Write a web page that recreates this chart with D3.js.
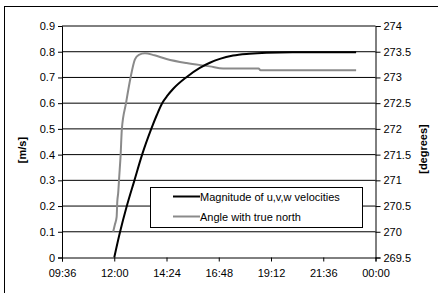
<!DOCTYPE html>
<html>
<head>
<meta charset="utf-8">
<script src="https://cdn.jsdelivr.net/npm/d3@7"></script>
<style>
  body { margin: 0; background: #fff; }
  svg text { font-family: "Liberation Sans", Arial, sans-serif; font-size: 11px; fill: #000; }
</style>
</head>
<body>
<div id="chart"></div>
<script>
// time in decimal hours
var tickHours = [9.6, 12, 14.4, 16.8, 19.2, 21.6, 24];
var tickLabels = ["09:36", "12:00", "14:24", "16:48", "19:12", "21:36", "00:00"];
var leftTicks = [0, 0.1, 0.2, 0.3, 0.4, 0.5, 0.6, 0.7, 0.8, 0.9];
var rightTicks = [269.5, 270, 270.5, 271, 271.5, 272, 272.5, 273, 273.5, 274];

// magnitude of u,v,w velocities [m/s]
var magHours = [12.0, 12.26, 12.57, 12.92, 13.28, 13.70, 13.95, 14.20, 14.45, 14.70, 15.30, 15.93, 16.39, 16.85, 17.46, 18.20, 18.99, 20.19, 23.11];
var magValues = [0, 0.097, 0.198, 0.298, 0.40, 0.50, 0.553, 0.60, 0.630, 0.655, 0.700, 0.737, 0.757, 0.772, 0.785, 0.792, 0.796, 0.798, 0.798];

// angle with true north [degrees]
var angHours = [11.95, 12.03, 12.11, 12.14, 12.18, 12.23, 12.29, 12.35, 12.54, 12.75, 12.95, 13.13, 13.41, 13.85, 14.40, 15.32, 16.39, 17.0, 18.63, 18.72, 23.11];
var angValues = [270.0, 270.14, 270.29, 270.59, 270.75, 271.08, 271.47, 272.0, 272.5, 273.0, 273.35, 273.44, 273.47, 273.43, 273.36, 273.28, 273.215, 273.175, 273.175, 273.14, 273.14];

var width = 438, height = 293;
var plotLeft = 62, plotRight = 375.5, plotTop = 26, plotBottom = 257.5;

var svg = d3.select("#chart").append("svg")
    .attr("width", width)
    .attr("height", height);

// outer frame (cropped at right and bottom)
svg.append("rect")
    .attr("x", 4.5).attr("y", 6.5)
    .attr("width", 600).attr("height", 400)
    .attr("fill", "none").attr("stroke", "#000");

var x = d3.scaleLinear().domain([9.6, 24]).range([plotLeft, plotRight]);
var y = d3.scaleLinear().domain([0, 0.9]).range([plotBottom, plotTop]);
var y2 = d3.scaleLinear().domain([269.5, 274]).range([plotBottom, plotTop]);

// gridlines
svg.append("g").selectAll("line")
  .data(leftTicks.slice(1))
  .enter().append("line")
    .attr("x1", plotLeft).attr("x2", plotRight)
    .attr("y1", function(d) { return y(d); })
    .attr("y2", function(d) { return y(d); })
    .attr("stroke", "#000").attr("stroke-width", 1);

// axes
var xAxis = d3.axisBottom(x).tickValues(tickHours)
    .tickFormat(function(d, i) { return tickLabels[i]; })
    .tickSize(4).tickPadding(8);
var yAxis = d3.axisLeft(y).tickValues(leftTicks)
    .tickFormat(d3.format("")).tickSize(4).tickPadding(3);
var y2Axis = d3.axisRight(y2).tickValues(rightTicks)
    .tickFormat(d3.format("")).tickSize(5).tickPadding(3);

[
  svg.append("g").attr("transform", "translate(0," + plotBottom + ")").call(xAxis),
  svg.append("g").attr("transform", "translate(" + plotLeft + ",0)").call(yAxis),
  svg.append("g").attr("transform", "translate(" + plotRight + ",0)").call(y2Axis)
].forEach(function(g) {
  g.selectAll("path, line").attr("stroke", "#000");
  g.selectAll("text").style("font-size", "11px")
    .style("font-family", "'Liberation Sans', Arial, sans-serif");
});

// axis titles
svg.append("text")
    .attr("transform", "translate(26,150) rotate(-90)")
    .attr("text-anchor", "middle")
    .style("font-weight", "bold")
    .text("[m/s]");
svg.append("text")
    .attr("transform", "translate(427,149) rotate(-90)")
    .attr("text-anchor", "middle")
    .style("font-weight", "bold")
    .text("[degrees]");

// lines
var magData = magHours.map(function(h, i) { return [h, magValues[i]]; });
var angData = angHours.map(function(h, i) { return [h, angValues[i]]; });

var magLine = d3.line()
    .x(function(d) { return x(d[0]); })
    .y(function(d) { return y(d[1]); })
    .curve(d3.curveMonotoneX);
var angLine = d3.line()
    .x(function(d) { return x(d[0]); })
    .y(function(d) { return y2(d[1]); })
    .curve(d3.curveMonotoneX);

svg.append("path").datum(angData)
    .attr("d", angLine)
    .attr("fill", "none").attr("stroke", "#8a8a8a").attr("stroke-width", 2);
svg.append("path").datum(magData)
    .attr("d", magLine)
    .attr("fill", "none").attr("stroke", "#000").attr("stroke-width", 2);

// legend
var legend = svg.append("g");
legend.append("rect")
    .attr("x", 150.5).attr("y", 187.5)
    .attr("width", 212).attr("height", 40)
    .attr("fill", "#fff").attr("stroke", "#000");
var items = [
  { label: "Magnitude of u,v,w velocities", color: "#000", y: 196.5 },
  { label: "Angle with true north", color: "#8a8a8a", y: 216.5 }
];
items.forEach(function(it) {
  legend.append("line")
      .attr("x1", 173).attr("x2", 200)
      .attr("y1", it.y).attr("y2", it.y)
      .attr("stroke", it.color).attr("stroke-width", 2);
  legend.append("text")
      .attr("x", 200).attr("y", it.y + 4)
      .text(it.label);
});
</script>
</body>
</html>
